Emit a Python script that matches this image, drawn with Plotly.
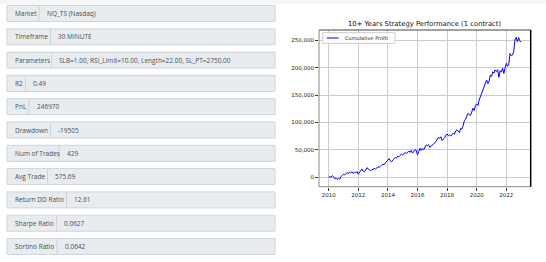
import plotly.graph_objects as go

# ---------------- data ----------------
field_labels = ["Market", "Timeframe", "Parameters", "R2", "PnL", "Drawdown",
                "Num of Trades", "Avg Trade", "Return DD Ratio", "Sharpe Ratio", "Sortino Ratio"]
field_values = ["NQ_TS (Nasdaq)", "30 MINUTE",
                "SLB=1.00, RSI_Limit=10.00, Length=22.00, SL_PT=2750.00",
                "0.49", "246970", "-19505", "429", "575.69", "12.61", "0.0627", "0.0642"]

chart_title = "10+ Years Strategy Performance (1 contract)"
series_name = "Cumulative Profit"

profit_by_year = {
    2010: [0, 1500, -500, 3000, 1000, -2500, -1500, -4000, -2000, -3500, 1000, 3500],
    2011: [5500, 4500, 7500, 8500, 6500, 9500, 8000, 10000, 7000, 9500, 8000, 10500],
    2012: [5500, 9000, 13500, 15000, 11000, 10000, 13000, 17500, 15500, 14000, 12000, 13500],
    2013: [14500, 16000, 15000, 17500, 19000, 18000, 21000, 22000, 24000, 23000, 26500, 29000],
    2014: [32500, 34000, 30000, 28000, 31500, 33500, 36000, 35000, 38500, 37500, 41000, 42500],
    2015: [40500, 44000, 45500, 43000, 46000, 48000, 45500, 49000, 44000, 47500, 50500, 49500],
    2016: [41000, 47000, 53000, 49000, 52500, 50000, 55000, 59000, 57500, 59500, 54500, 56500],
    2017: [58500, 61000, 63500, 65000, 69000, 73000, 71000, 74000, 67000, 69500, 72000, 77000],
    2018: [79000, 75500, 77500, 75000, 79000, 80500, 78500, 84500, 86500, 83000, 81500, 89000],
    2019: [88000, 94000, 103000, 106000, 111000, 116500, 114000, 113000, 119000, 126000, 122000, 131000],
    2020: [134000, 131000, 141000, 147500, 152000, 159000, 166000, 174500, 177500, 171000, 174500, 186500],
    2021: [184000, 192500, 190000, 196000, 193000, 196500, 182500, 194500, 192000, 199000, 189500, 199500],
    2022: [208000, 203000, 205000, 226000, 222000, 223000, 229000, 250500, 255500, 247500, 255000, 248500],
    2023: [246970],
}
dates = []
profits = []
for yr, vals in profit_by_year.items():
    for m, v in enumerate(vals):
        dates.append(f"{yr}-{m + 1:02d}-01")
        profits.append(v)

x_tick_years = [2010, 2012, 2014, 2016, 2018, 2020, 2022]
y_tick_vals = [0, 50000, 100000, 150000, 200000, 250000]

# ---------------- layout helpers ----------------
W, H = 546, 262


def px(x):
    return x / W


def py(y):
    return 1 - y / H


shapes = []
annotations = []

# faint top band
shapes.append(dict(type="rect", xref="paper", yref="paper", x0=0, x1=1, y0=py(4), y1=1,
                   fillcolor="#f6f6f6", line_width=0, layer="below"))

# left info panel
box_left, box_right = 7, 275
box_top0, pitch, box_h = 5.5, 23.3, 16
label_widths = [32, 43.5, 44.5, 18.5, 22, 43.5, 52, 40.5, 59.5, 49.5, 50]
for i, (lab, val) in enumerate(zip(field_labels, field_values)):
    t = box_top0 + i * pitch
    b = t + box_h
    div = box_left + label_widths[i]
    shapes.append(dict(type="rect", xref="paper", yref="paper",
                       x0=px(box_left), x1=px(box_right), y0=py(b), y1=py(t),
                       fillcolor="#e9ecef", line=dict(color="#ced4da", width=1), layer="below"))
    shapes.append(dict(type="line", xref="paper", yref="paper",
                       x0=px(div), x1=px(div), y0=py(b), y1=py(t),
                       line=dict(color="#ced4da", width=1)))
    cy = (t + b) / 2
    annotations.append(dict(xref="paper", yref="paper", x=px(box_left + 5.5), y=py(cy),
                            text=lab, showarrow=False, xanchor="left", yanchor="middle",
                            font=dict(family="Open Sans", size=6.5, color="#495057")))
    annotations.append(dict(xref="paper", yref="paper", x=px(div + 5.5), y=py(cy),
                            text=val, showarrow=False, xanchor="left", yanchor="middle",
                            font=dict(family="Open Sans", size=6.5, color="#495057")))

# chart geometry
ax_l, ax_r, ax_t, ax_b = 319, 530.7, 30, 186.7

# spines
shapes.append(dict(type="line", xref="paper", yref="paper", x0=px(ax_l), x1=px(ax_r),
                   y0=py(ax_t), y1=py(ax_t), line=dict(color="#444444", width=1)))
shapes.append(dict(type="line", xref="paper", yref="paper", x0=px(ax_l), x1=px(ax_r),
                   y0=py(ax_b), y1=py(ax_b), line=dict(color="#888888", width=1)))
shapes.append(dict(type="line", xref="paper", yref="paper", x0=px(ax_l), x1=px(ax_l),
                   y0=py(ax_b), y1=py(ax_t), line=dict(color="#888888", width=1)))
shapes.append(dict(type="line", xref="paper", yref="paper", x0=px(ax_r), x1=px(ax_r),
                   y0=py(ax_b), y1=py(ax_t), line=dict(color="#000000", width=1.5)))

# legend (drawn manually in matplotlib style)
lg_l, lg_r, lg_t, lg_b = 322.7, 395, 32.7, 43.3
shapes.append(dict(type="rect", xref="paper", yref="paper", x0=px(lg_l), x1=px(lg_r),
                   y0=py(lg_b), y1=py(lg_t), fillcolor="rgba(255,255,255,0.9)",
                   line=dict(color="#cccccc", width=1)))
shapes.append(dict(type="line", xref="paper", yref="paper", x0=px(lg_l + 4), x1=px(lg_l + 16),
                   y0=py((lg_t + lg_b) / 2), y1=py((lg_t + lg_b) / 2),
                   line=dict(color="#0000ff", width=1)))
annotations.append(dict(xref="paper", yref="paper", x=px(lg_l + 20), y=py((lg_t + lg_b) / 2),
                        text=series_name, showarrow=False, xanchor="left", yanchor="middle",
                        font=dict(family="DejaVu Sans", size=5, color="#222222")))

# title
annotations.append(dict(xref="paper", yref="paper", x=px((ax_l + ax_r) / 2), y=py(24),
                        text=chart_title, showarrow=False, xanchor="center", yanchor="middle",
                        font=dict(family="DejaVu Sans", size=6.8, color="#111111")))

fig = go.Figure()
fig.add_trace(go.Scatter(x=dates, y=profits, mode="lines", name=series_name,
                         line=dict(color="#0000ff", width=1), showlegend=False))

fig.update_layout(
    width=W, height=H, margin=dict(l=0, r=0, t=0, b=0),
    paper_bgcolor="white", plot_bgcolor="white",
    shapes=shapes, annotations=annotations, showlegend=False,
    xaxis=dict(domain=[px(ax_l), px(ax_r)], type="date",
               range=["2009-05-08", "2023-08-25"],
               tickvals=[f"{y}-01-01" for y in x_tick_years],
               ticktext=[str(y) for y in x_tick_years],
               showgrid=True, gridcolor="#cccccc", gridwidth=1,
               ticks="outside", ticklen=3, tickcolor="#333333",
               tickfont=dict(family="DejaVu Sans", size=5.5, color="#222222"),
               zeroline=False, showline=False),
    yaxis=dict(domain=[py(ax_b), py(ax_t)], range=[-17200, 268800],
               tickvals=y_tick_vals, ticktext=[f"{v:,}" for v in y_tick_vals],
               showgrid=True, gridcolor="#cccccc", gridwidth=1,
               ticks="outside", ticklen=3, tickcolor="#333333",
               tickfont=dict(family="DejaVu Sans", size=5.5, color="#222222"),
               zeroline=False, showline=False),
)

fig.write_html("out.html")
